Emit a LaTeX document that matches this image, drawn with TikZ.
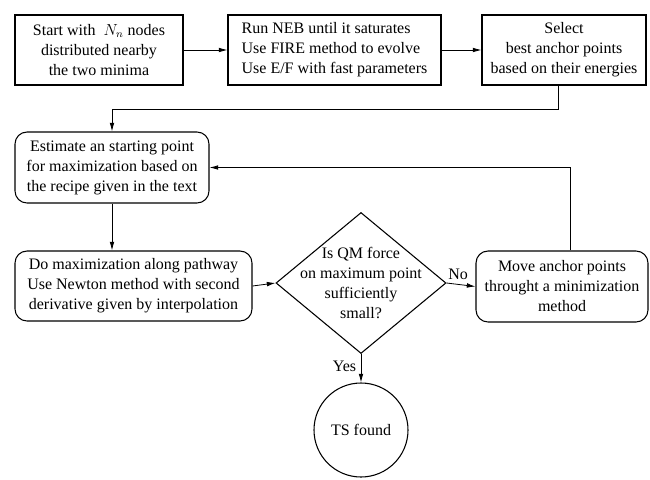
\documentclass[tikz,border=0pt]{standalone}
\usepackage{fontspec}
\setmainfont{Liberation Serif}
\usetikzlibrary{shapes.geometric, arrows.meta, calc}
\tikzset{
	proc/.style={draw, line width=0.8pt, align=center, inner sep=1pt, minimum height=52.5pt, font=\fontsize{12}{15}\selectfont},
	roundproc/.style={proc, rounded corners=9pt},
	decision/.style={draw, diamond, line width=0.8pt, inner sep=0pt, minimum width=127.5pt, minimum height=105.75pt},
	stopnode/.style={draw, circle, line width=0.8pt, minimum size=70.5pt, font=\fontsize{12}{15}\selectfont},
	flow/.style={-{Latex[length=6.5pt, width=3.5pt]}, line width=0.6pt},
	tag/.style={font=\fontsize{12}{15}\selectfont}
}
\begin{document}
\begin{tikzpicture}[x=0.75pt, y=-0.75pt]
			\useasboundingbox (0,0) rectangle (650,479);
			\node[proc, minimum width=126pt] (start) at (99,50) {Start with \ $N_n$ nodes\\distributed nearby\\the two minima};
			\node[proc, minimum width=159.75pt, align=left] (neb) at (334.5,50) {Run NEB until it saturates\\Use FIRE method to evolve\\Use E/F with fast parameters};
			\node[proc, minimum width=123pt] (select) at (564,50) {Select\\best anchor points\\based on their energies};
			\node[roundproc, minimum width=145.5pt, minimum height=53.25pt] (estimate) at (112,167.5) {Estimate an starting point\\for maximization based on\\the recipe given in the text};
			\node[roundproc, minimum width=177.75pt] (maxim) at (133.5,286) {Do maximization along pathway\\Use Newton method with second\\derivative given by interpolation};
			\node[decision, label={[tag, align=center]center:Is QM force\\on maximum point\\sufficiently\\small?}] (check) at (361,283) {};
			\node[roundproc, minimum width=129pt, minimum height=53.25pt] (move) at (562,286.5) {Move anchor points\\throught a minimization\\method};
			\node[stopnode] (ts) at (361,430) {TS found};
			\draw[flow] (start) -- (neb);
			\draw[flow] (neb) -- (select);
			\draw[flow] ([xshift=-4.5pt]select.south) -- ++(0,24) -| (estimate.north);
			\draw[flow] (estimate) -- (estimate |- maxim.north);
			\draw[flow] (maxim.east) -- (check.west);
			\draw[flow] (check.east) -- (move.west) node[tag, pos=0.4, above] {No};
			\draw[flow] (check.south) -- (ts.north) node[tag, pos=0.45, left] {Yes};
			\draw[flow] ([xshift=6pt]move.north) |- (estimate.east);
		\end{tikzpicture}
\end{document}
